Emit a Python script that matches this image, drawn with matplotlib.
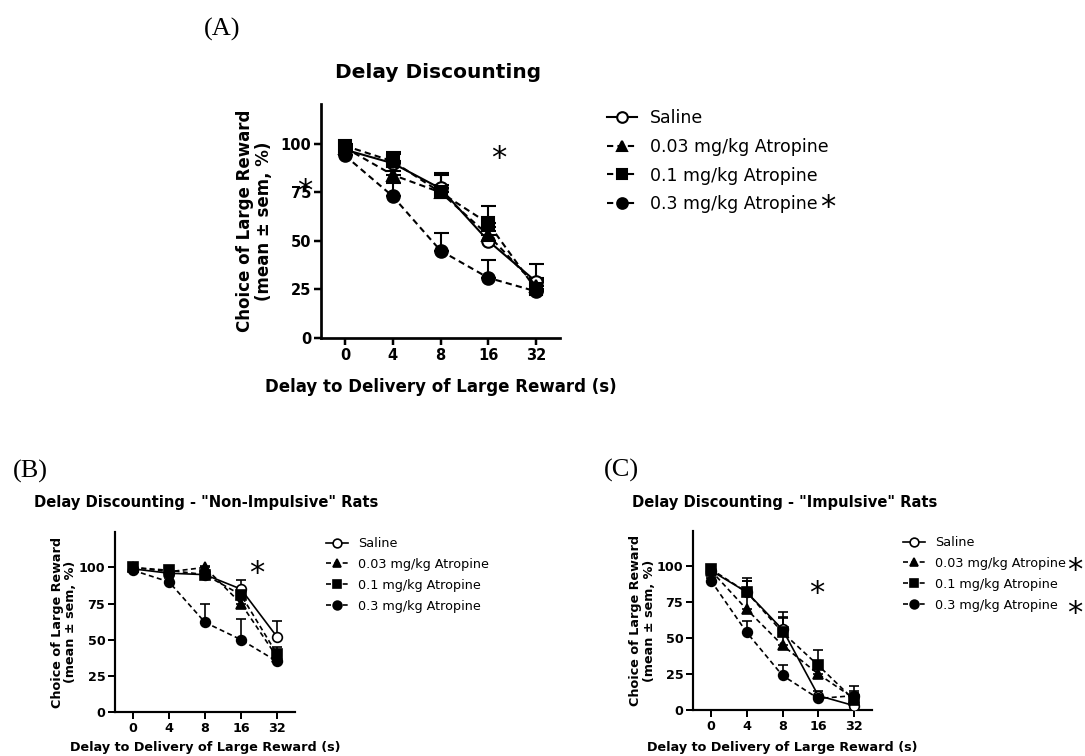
import matplotlib
matplotlib.use("Agg")
import matplotlib.pyplot as plt

# delays and groups
delays = ["0", "4", "8", "16", "32"]
groups = ["Saline", "0.03 mg/kg Atropine", "0.1 mg/kg Atropine", "0.3 mg/kg Atropine"]

# (A) all rats: mean and upper sem
saline_a = [97, 90, 77, 50, 29]
low_a = [98, 84, 75, 53, 27]
mid_a = [99, 91, 75, 59, 25]
high_a = [94, 73, 45, 31, 24]
saline_a_sem = [2, 5, 8, 5, 9]
low_a_sem = [1, 2, 4, 4, 4]
mid_a_sem = [1, 5, 9, 9, 5]
high_a_sem = [2, 7, 9, 9, 3]

# (B) non-impulsive rats
saline_b = [99, 96, 95, 85, 52]
low_b = [100, 97, 100, 75, 38]
mid_b = [100, 98, 95, 81, 40]
high_b = [98, 90, 62, 50, 35]
saline_b_sem = [1, 2, 2, 6, 11]
low_b_sem = [1, 2, 1, 4, 5]
mid_b_sem = [1, 2, 2, 5, 5]
high_b_sem = [1, 3, 13, 14, 3]

# (C) impulsive rats
saline_c = [97, 82, 56, 10, 3]
low_c = [97, 70, 45, 25, 8]
mid_c = [98, 82, 54, 31, 7]
high_c = [90, 54, 24, 8, 10]
saline_c_sem = [2, 8, 12, 3, 3]
low_c_sem = [2, 20, 20, 4, 4]
mid_c_sem = [1, 10, 10, 11, 6]
high_c_sem = [2, 8, 7, 2, 7]

W, H = 1085, 756


def fx(px):
    return px / W


def fy(py):
    return 1 - py / H


fig = plt.figure(figsize=(W / 100, H / 100), dpi=100)

markers = ["o", "^", "s", "o"]
faces = ["white", "black", "black", "black"]


def panel(ax, means, sems, ymax, ms, lw, cap, tick_fs, label_fs, ylab_x, xlab_y):
    x = list(range(len(delays)))
    handles = []
    for i in range(4):
        ls = "-" if i == 0 else (0, (3, 2))
        ax.errorbar(x, means[i], yerr=[[0] * len(x), sems[i]], fmt="none",
                    ecolor="black", elinewidth=lw, capsize=cap, capthick=lw, zorder=2)
        h, = ax.plot(x, means[i], color="black", lw=lw, linestyle=ls, marker=markers[i],
                     ms=ms, mfc=faces[i], mec="black", mew=lw, zorder=3 + i * 0.1)
        handles.append(h)
    ax.set_xlim(-0.5, 4.5)
    ax.set_ylim(0, ymax)
    ax.set_xticks(x)
    ax.set_xticklabels(delays)
    ax.set_yticks([0, 25, 50, 75, 100])
    for s in ["top", "right"]:
        ax.spines[s].set_visible(False)
    for s in ["left", "bottom"]:
        ax.spines[s].set_linewidth(lw * 1.3)
    ax.tick_params(direction="out", length=5, width=lw * 1.2, labelsize=tick_fs, pad=2)
    for t in ax.get_xticklabels() + ax.get_yticklabels():
        t.set_fontweight("bold")
    ax.set_ylabel("Choice of Large Reward\n(mean \u00b1 sem, %)", fontsize=label_fs,
                  fontweight="bold", linespacing=1.05)
    ax.yaxis.set_label_coords(ylab_x, 0.5)
    ax.yaxis.label.set_va("center")
    ax.set_xlabel("Delay to Delivery of Large Reward (s)", fontsize=label_fs, fontweight="bold")
    ax.xaxis.set_label_coords(0.5, xlab_y)
    ax.xaxis.label.set_va("center")
    return handles


def star(px, py, size=22):
    fig.text(fx(px), fy(py + size * 0.55), "*", fontsize=size, ha="center", va="baseline")


# panel A
ax_a = fig.add_axes([fx(321), fy(338), (560 - 321) / W, (338 - 104) / H])
h = panel(ax_a, [saline_a, low_a, mid_a, high_a],
          [saline_a_sem, low_a_sem, mid_a_sem, high_a_sem],
          120.5, 9, 1.5, 5.4, 10.5, 12, -0.279, -0.209)
ax_a.legend(h, groups, loc="upper left", bbox_to_anchor=(fx(607), fy(109)),
            bbox_transform=fig.transFigure, frameon=False, fontsize=12.5,
            handlelength=1.7, handletextpad=0.75, labelspacing=0.62,
            borderpad=0, borderaxespad=0, numpoints=1, markerscale=0.85)
fig.text(fx(438), fy(72), "Delay Discounting", fontsize=14.5, fontweight="bold",
         ha="center", va="center")
fig.text(fx(222), fy(29), "(A)", fontsize=19, family="Liberation Serif",
         ha="center", va="center")
star(499, 155)
star(305, 188)
star(828, 204)

# panel B
ax_b = fig.add_axes([fx(115), fy(712), 180 / W, 180 / H])
h = panel(ax_b, [saline_b, low_b, mid_b, high_b],
          [saline_b_sem, low_b_sem, mid_b_sem, high_b_sem],
          124.5, 7, 1.2, 3.6, 9.2, 9.2, -0.283, -0.2)
ax_b.legend(h, groups, loc="upper left", bbox_to_anchor=(fx(326), fy(537)),
            bbox_transform=fig.transFigure, frameon=False, fontsize=9.2,
            handlelength=1.7, handletextpad=0.8, labelspacing=0.62,
            borderpad=0, borderaxespad=0, numpoints=1, markerscale=0.9)
fig.text(fx(34), fy(503), 'Delay Discounting - "Non-Impulsive" Rats', fontsize=10.6,
         fontweight="bold", ha="left", va="center")
fig.text(fx(30), fy(471), "(B)", fontsize=19, family="Liberation Serif",
         ha="center", va="center")
star(257, 570)

# panel C
ax_c = fig.add_axes([fx(693), fy(710), 179 / W, 179 / H])
h = panel(ax_c, [saline_c, low_c, mid_c, high_c],
          [saline_c_sem, low_c_sem, mid_c_sem, high_c_sem],
          124.5, 7, 1.2, 3.6, 9.2, 9.2, -0.282, -0.212)
ax_c.legend(h, groups, loc="upper left", bbox_to_anchor=(fx(903), fy(536)),
            bbox_transform=fig.transFigure, frameon=False, fontsize=9.2,
            handlelength=1.7, handletextpad=0.8, labelspacing=0.62,
            borderpad=0, borderaxespad=0, numpoints=1, markerscale=0.9)
fig.text(fx(632), fy(503), 'Delay Discounting - "Impulsive" Rats', fontsize=10.6,
         fontweight="bold", ha="left", va="center")
fig.text(fx(621), fy(470), "(C)", fontsize=19, family="Liberation Serif",
         ha="center", va="center")
star(817, 590)
star(1075, 567)
star(1075, 610)

fig.savefig("out.png", dpi=100)
